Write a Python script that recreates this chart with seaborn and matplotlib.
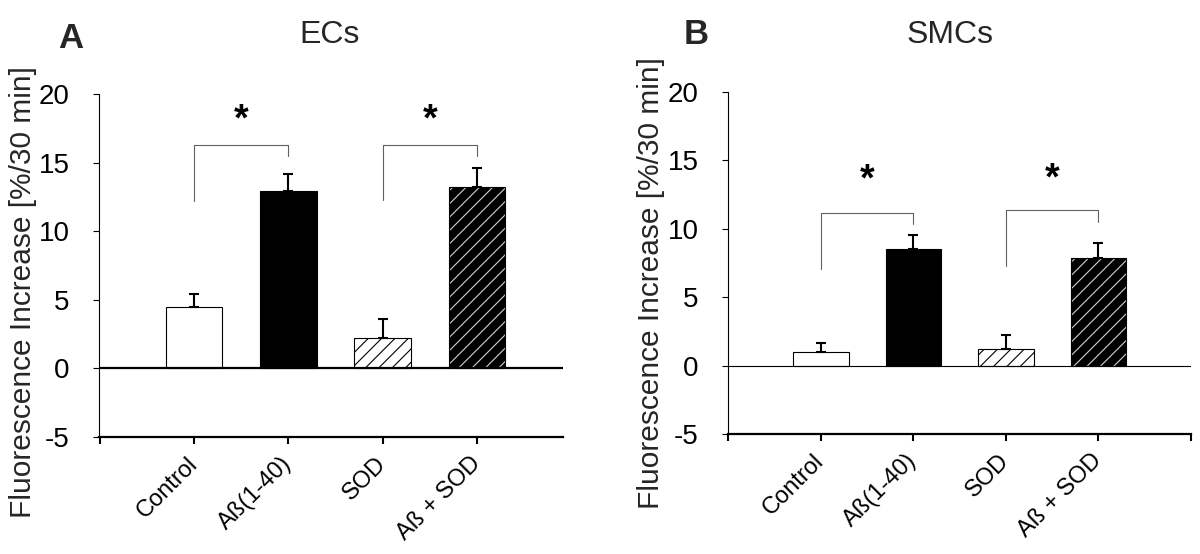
import numpy as np
import pandas as pd
import matplotlib
matplotlib.use("Agg")
import matplotlib.pyplot as plt
import seaborn as sns
from matplotlib.patches import Rectangle

# ---------------- data ----------------
categories = ["Control", "Aß(1-40)", "SOD", "Aß + SOD"]

ecs_values = [4.5, 12.95, 2.25, 13.2]
ecs_errors = [0.95, 1.2, 1.35, 1.4]

smcs_values = [1.0, 8.5, 1.2, 7.85]
smcs_errors = [0.68, 1.08, 1.06, 1.1]

yticks = [-5, 0, 5, 10, 15, 20]

bracket_pairs = [(0, 1), (2, 3)]
ecs_bracket_left = [12.2, 12.3]
ecs_bracket_top = [16.3, 16.3]
ecs_bracket_right = [15.5, 15.5]
ecs_star_y = [18.1, 18.1]

smcs_bracket_left = [7.05, 7.3]
smcs_bracket_top = [11.15, 11.35]
smcs_bracket_right = [10.35, 10.5]
smcs_star_y = [13.5, 13.6]

panel_titles = ["ECs", "SMCs"]
panel_letters = ["A", "B"]
ylabel = "Fluorescence Increase [%/30 min]"

# ---------------- style ----------------
DPI = 160
K = 100.0 / DPI  # convert "points at 100 dpi" to points at DPI

sns.set_style("white")
plt.rcParams["font.family"] = ["Liberation Sans", "DejaVu Sans"]
plt.rcParams["axes.unicode_minus"] = False
plt.rcParams["hatch.linewidth"] = 0.5

fig = plt.figure(figsize=(1200 / DPI, 554 / DPI), dpi=DPI)
axA = fig.add_axes([99 / 1200, 1 - 437 / 554, (563 - 99) / 1200, (437 - 94) / 554])
axB = fig.add_axes([728 / 1200, 1 - 434 / 554, (1191 - 728) / 1200, (434 - 92) / 554])

face_colors = ["white", "black", "white", "black"]


def draw_panel(ax, values, errors, bl, bt, br, stars, xlim, zero_lw, extra_right_tick):
    df = pd.DataFrame({"cat": categories, "val": values})
    sns.barplot(data=df, x="cat", y="val", hue="cat", palette=face_colors,
                saturation=1, edgecolor="black", linewidth=0.8 * K, width=0.6,
                errorbar=None, legend=False, ax=ax, zorder=2)
    patches = ax.patches[:4]
    # SOD: white with black hatch
    patches[2].set_hatch("////")
    # Aß + SOD: black with light hatch, then black outline
    p = patches[3]
    p.set_edgecolor("#d0d0d0")
    p.set_hatch("////")
    p.set_linewidth(0)
    ax.add_patch(Rectangle(p.get_xy(), p.get_width(), p.get_height(), fill=False,
                           edgecolor="black", linewidth=0.8 * K, zorder=2.1))

    x = np.arange(len(categories))
    ax.errorbar(x, values, yerr=[np.zeros(len(values)), errors], fmt="none",
                ecolor="black", elinewidth=1.5 * K, capsize=3.3 * K,
                capthick=1.5 * K, zorder=3)

    ax.axhline(0, color="black", lw=zero_lw, zorder=2.5)

    for (i, j), l, t, r, s in zip(bracket_pairs, bl, bt, br, stars):
        ax.plot([i, i, j, j], [l, t, t, r], color="#606060", lw=0.8 * K, zorder=3)
        ax.text((i + j) / 2, s, "*", ha="center", va="center", fontsize=27 * K,
                fontweight="bold", color="black")

    ax.set_xlim(*xlim)
    ax.set_ylim(-5, 20)
    ax.set_yticks(yticks)
    ax.set_yticklabels([str(v) for v in yticks], fontsize=20 * K)
    ticks = [-1] + list(x) + ([4] if extra_right_tick else [])
    labels = [""] + categories + ([""] if extra_right_tick else [])
    ax.set_xticks(ticks)
    ax.set_xticklabels(labels, rotation=45, ha="right", va="center",
                       rotation_mode="anchor", fontsize=17 * K)
    ax.set_xlabel("")
    ax.set_ylabel("")
    for side in ["top", "right"]:
        ax.spines[side].set_visible(False)
    ax.spines["left"].set_linewidth(0.8 * K)
    ax.spines["bottom"].set_linewidth(1.6 * K)
    ax.spines["left"].set_color("black")
    ax.spines["bottom"].set_color("black")
    ax.tick_params(axis="y", direction="out", length=4 * K, width=0.8 * K,
                   pad=17 * K, left=True, colors="black")
    ax.tick_params(axis="x", direction="out", length=5 * K, width=1.5 * K,
                   pad=12 * K, bottom=True, colors="black")


draw_panel(axA, ecs_values, ecs_errors, ecs_bracket_left, ecs_bracket_top,
           ecs_bracket_right, ecs_star_y, (-1.007, 3.91), 1.6 * K, False)
draw_panel(axB, smcs_values, smcs_errors, smcs_bracket_left, smcs_bracket_top,
           smcs_bracket_right, smcs_star_y, (-1.003, 3.99), 0.8 * K, True)

# titles, panel letters, y labels
fig.text(71 / 1200, 1 - 39 / 554, panel_letters[0], ha="center", va="center",
         fontsize=25 * K, fontweight="bold")
fig.text(330 / 1200, 1 - 35 / 554, panel_titles[0], ha="center", va="center",
         fontsize=23 * K)
fig.text(696 / 1200, 1 - 35 / 554, panel_letters[1], ha="center", va="center",
         fontsize=25 * K, fontweight="bold")
fig.text(950 / 1200, 1 - 35 / 554, panel_titles[1], ha="center", va="center",
         fontsize=23 * K)
fig.text(23 / 1200, 1 - 292 / 554, ylabel, rotation=90, ha="center",
         va="center", fontsize=21.5 * K)
fig.text(651 / 1200, 1 - 283 / 554, ylabel, rotation=90, ha="center",
         va="center", fontsize=21.5 * K)

fig.savefig("out.png", dpi=DPI, facecolor="white")
